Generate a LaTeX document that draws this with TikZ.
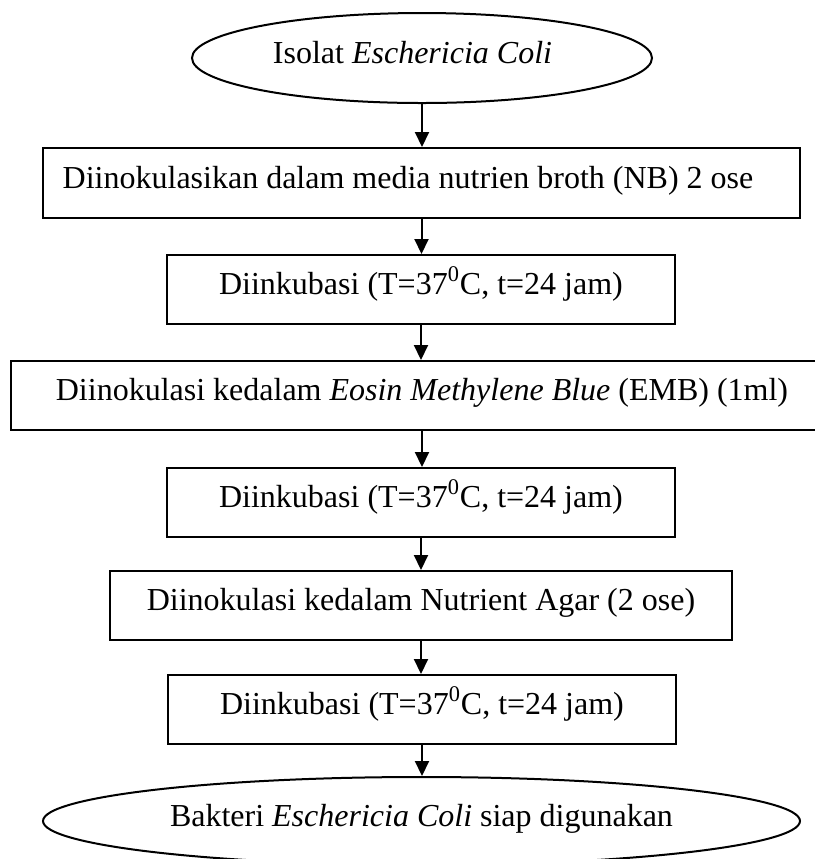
\documentclass[tikz,border=0pt]{standalone}
\usepackage{fontspec}
\setmainfont{Liberation Serif}
\usetikzlibrary{shapes.geometric,arrows.meta}
\begin{document}
\begin{tikzpicture}[x=0.5pt,y=-0.5pt,
  every node/.style={font=\fontsize{16}{19}\selectfont},
  stepbox/.style={draw, line width=1pt, rectangle, inner sep=0pt, text height=10pt, text depth=5pt},
  termbox/.style={draw, line width=1pt, ellipse, inner sep=0pt, text height=10pt, text depth=5pt},
  flow/.style={line width=1pt, -{Triangle[width=7pt,length=7.5pt]}}]
\useasboundingbox (0,0) rectangle (815,859);
\clip (0,0) rectangle (815,859);
\node[termbox, minimum width=230pt, minimum height=45pt] (e1) at (422,58) {Isolat \textit{Eschericia Coli}\hspace*{9.5pt}};
\node[stepbox, minimum width=378.5pt, minimum height=35pt] (b1) at (421.5,183) {Diinokulasikan dalam media nutrien broth (NB) 2 ose\hspace*{13.5pt}};
\node[stepbox, minimum width=254pt, minimum height=34.5pt] (b2) at (421,289.5) {Diinkubasi (T=37\textsuperscript{0}C, t=24 jam)};
\node[stepbox, minimum width=411pt, minimum height=34.5pt] (b3) at (422,395.5) {Diinokulasi kedalam \textit{Eosin Methylene Blue} (EMB) (1ml)};
\node[stepbox, minimum width=254pt, minimum height=34.5pt] (b4) at (421,502.5) {Diinkubasi (T=37\textsuperscript{0}C, t=24 jam)};
\node[stepbox, minimum width=311pt, minimum height=34.5pt] (b5) at (421,605.5) {Diinokulasi kedalam Nutrient Agar (2 ose)};
\node[stepbox, minimum width=254pt, minimum height=34.5pt] (b6) at (422,709.5) {Diinkubasi (T=37\textsuperscript{0}C, t=24 jam)};
\node[termbox, minimum width=378.5pt, minimum height=44pt] (e2) at (421.5,821) {Bakteri \textit{Eschericia Coli} siap digunakan};
\draw[flow] (e1.south) -- (e1.south |- b1.north);
\draw[flow] (b1.south) -- (b1.south |- b2.north);
\draw[flow] (b2.south) -- (b2.south |- b3.north);
\draw[flow] (b3.south) -- (b3.south |- b4.north);
\draw[flow] (b4.south) -- (b4.south |- b5.north);
\draw[flow] (b5.south) -- (b5.south |- b6.north);
\draw[flow] (b6.south) -- (b6.south |- e2.north);
\end{tikzpicture}
\end{document}
